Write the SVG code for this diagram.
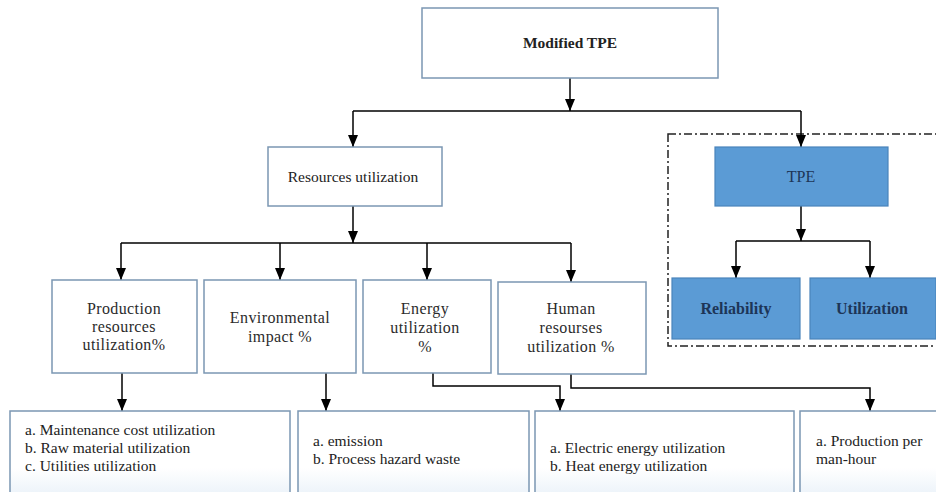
<svg xmlns="http://www.w3.org/2000/svg" width="936" height="492" viewBox="0 0 936 492" font-family="'Liberation Serif', 'DejaVu Serif', serif">
<defs>
<marker id="ah" viewBox="0 0 12 10" refX="12" refY="5" markerWidth="12" markerHeight="10" markerUnits="userSpaceOnUse" orient="auto">
<path d="M0,0 L12,5 L0,10 Z" fill="#000"/>
</marker>
<linearGradient id="fade" x1="0" y1="0" x2="0" y2="1">
<stop offset="0" stop-color="#ffffff"/>
<stop offset="0.6" stop-color="#ffffff"/>
<stop offset="1" stop-color="#e4eef7"/>
</linearGradient>
<style>
.box{fill:#fff;stroke:#7b97b3;stroke-width:1.5}
.bbox{fill:url(#fade);stroke:#7b97b3;stroke-width:1.5}
.blue{fill:#5b9bd5;stroke:#4a84bb;stroke-width:1.2}
.t{font-size:15.5px;fill:#222;text-anchor:middle}
.c{font-size:16px;fill:#2b2b2b;text-anchor:middle;letter-spacing:0.4px}
.l{font-size:15.5px;fill:#222}
.n{font-size:16px;fill:#1d3557;text-anchor:middle}
.conn{fill:none;stroke:#000;stroke-width:1.5}
.arr{fill:none;stroke:#000;stroke-width:1.5;marker-end:url(#ah)}
</style>
</defs>
<rect width="936" height="492" fill="#fff"/>

<g id="tpe-frame">
<rect x="668" y="134" width="272" height="212" fill="none" stroke="#222" stroke-width="1.5" stroke-dasharray="8,3,2,3"/>
</g>

<g id="connectors">
<path class="arr" d="M570,78 V111"/>
<path class="conn" d="M353,111 H801"/>
<path class="arr" d="M353,111 V147"/>
<path class="arr" d="M801,111 V147"/>
<path class="arr" d="M353,206 V243"/>
<path class="conn" d="M121,243 H571"/>
<path class="arr" d="M121,243 V280"/>
<path class="arr" d="M280,243 V280"/>
<path class="arr" d="M427,243 V280"/>
<path class="arr" d="M571,243 V282"/>
<path class="arr" d="M801,206 V241"/>
<path class="conn" d="M736,241 H870"/>
<path class="arr" d="M736,241 V278"/>
<path class="arr" d="M870,241 V278"/>
<path class="arr" d="M122,373 V411"/>
<path class="arr" d="M326,373 V411"/>
<path class="arr" d="M433,373 V386 H560 V411"/>
<path class="arr" d="M571,374 V388 H870 V411"/>
</g>

<g id="modified-tpe">
<rect class="box" x="422" y="8" width="296" height="70"/>
<text class="t" x="570" y="48" font-family="Liberation Serif" font-weight="bold" font-size="15px">Modified TPE</text>
</g>

<g id="resources-utilization">
<rect class="box" x="268" y="147" width="174" height="59"/>
<text class="t" x="353" y="182" font-family="Liberation Serif">Resources utilization</text>
</g>

<g id="tpe">
<rect class="blue" x="715" y="147" width="173" height="59"/>
<text class="n" x="801" y="182" font-family="Liberation Serif">TPE</text>
</g>

<g id="reliability">
<rect class="blue" x="672" y="278" width="128" height="61"/>
<text class="n" x="736" y="314" font-family="Liberation Serif" font-weight="bold" font-size="15px" fill="#243a5e">Reliability</text>
</g>

<g id="utilization">
<rect class="blue" x="810" y="278" width="126" height="61"/>
<text class="n" x="872" y="314" font-family="Liberation Serif" font-weight="bold" font-size="15px" fill="#243a5e">Utilization</text>
</g>

<g id="production-resources" font-family="Liberation Serif">
<rect class="box" x="52" y="280" width="145" height="93"/>
<text class="c" x="124" y="314">Production</text>
<text class="c" x="124" y="332">resources</text>
<text class="c" x="124" y="350">utilization%</text>
</g>

<g id="environmental-impact" font-family="Liberation Serif">
<rect class="box" x="204" y="280" width="152" height="93"/>
<text class="c" x="280" y="323">Environmental</text>
<text class="c" x="280" y="342">impact %</text>
</g>

<g id="energy-utilization" font-family="Liberation Serif">
<rect class="box" x="363" y="280" width="128" height="93"/>
<text class="c" x="425" y="314">Energy</text>
<text class="c" x="425" y="333">utilization</text>
<text class="c" x="425" y="352">%</text>
</g>

<g id="human-resources" font-family="Liberation Serif">
<rect class="box" x="498" y="282" width="148" height="92"/>
<text class="c" x="571" y="314">Human</text>
<text class="c" x="571" y="333">resourses</text>
<text class="c" x="571" y="352">utilization %</text>
</g>

<g id="production-items" font-family="Liberation Serif">
<rect class="bbox" x="10" y="411" width="280" height="95"/>
<text class="l" x="25" y="435">a. Maintenance cost utilization</text>
<text class="l" x="25" y="453">b. Raw  material utilization</text>
<text class="l" x="25" y="471">c. Utilities  utilization</text>
</g>

<g id="environmental-items" font-family="Liberation Serif">
<rect class="bbox" x="298" y="411" width="231" height="95"/>
<text class="l" x="313" y="446">a. emission</text>
<text class="l" x="313" y="464">b. Process hazard waste</text>
</g>

<g id="energy-items" font-family="Liberation Serif">
<rect class="bbox" x="535" y="411" width="259" height="95"/>
<text class="l" x="550" y="453">a. Electric energy utilization</text>
<text class="l" x="550" y="471">b. Heat energy utilization</text>
</g>

<g id="human-items" font-family="Liberation Serif">
<rect class="bbox" x="800" y="411" width="150" height="95"/>
<text class="l" x="816" y="446">a. Production per</text>
<text class="l" x="816" y="464">man-hour</text>
</g>
</svg>
